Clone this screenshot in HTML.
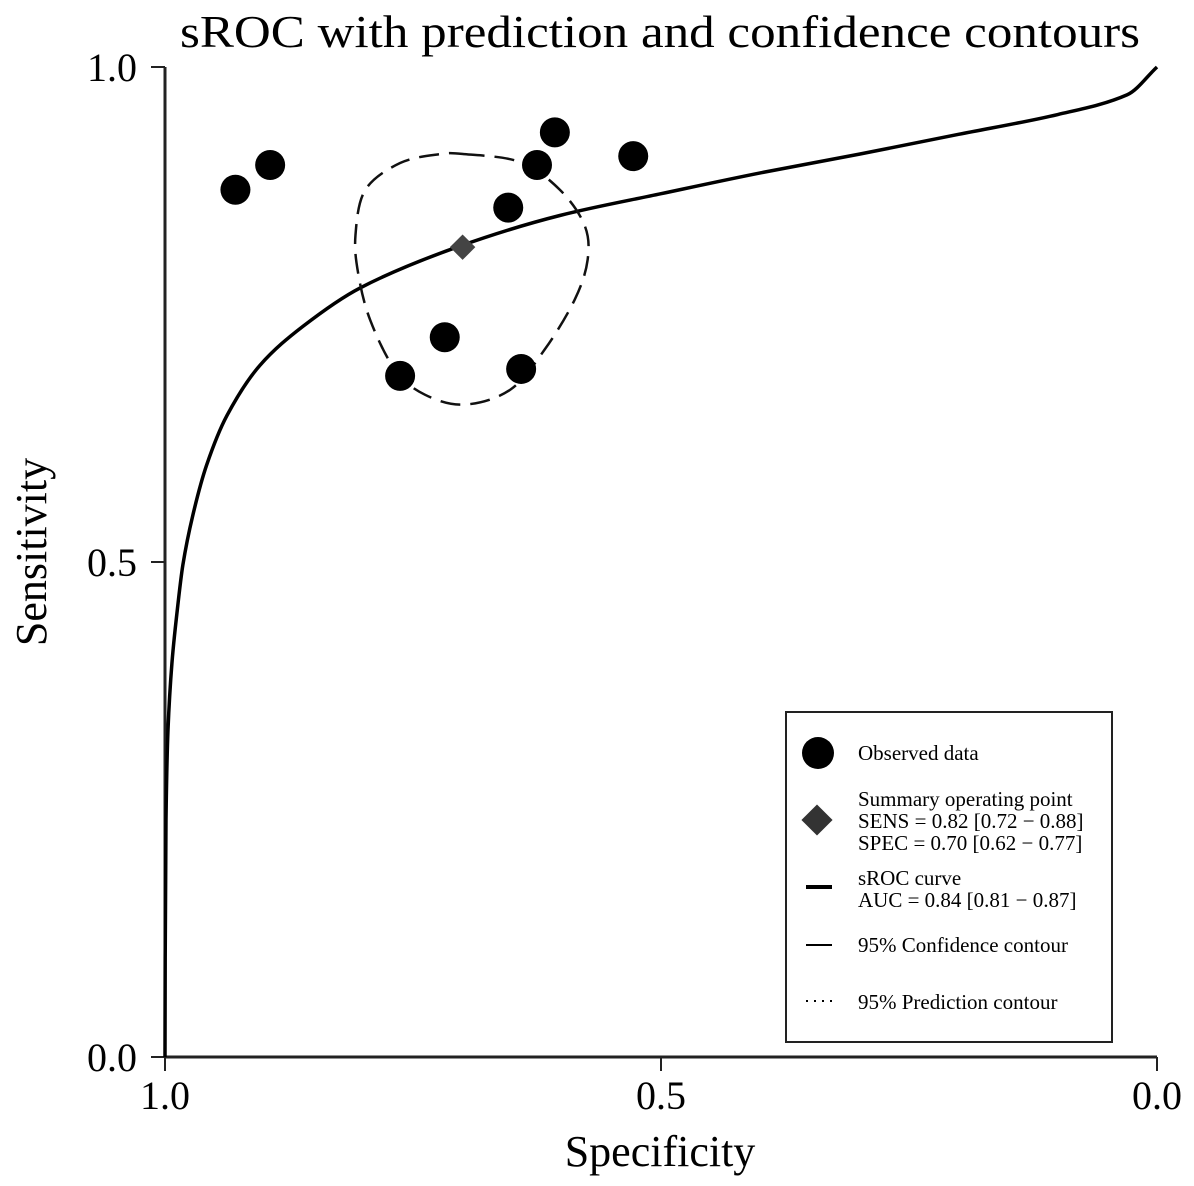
<!DOCTYPE html>
<html><head><meta charset="utf-8"><style>
body{margin:0;background:#fff;}
svg{display:block;font-family:"Liberation Serif",serif;}
</style></head><body>
<svg width="1194" height="1186" viewBox="0 0 1194 1186">
<text x="660" y="47" text-anchor="middle" font-size="46" textLength="960" lengthAdjust="spacingAndGlyphs">sROC with prediction and confidence contours</text>
<g id="axes"></g>
<g id="plot"></g>
<text x="660" y="1166" text-anchor="middle" font-size="44">Specificity</text>
<text transform="translate(46,552) rotate(-90)" text-anchor="middle" font-size="44">Sensitivity</text>
<g>
<rect x="786" y="712" width="326" height="330" fill="#fff" stroke="#222" stroke-width="2"/>
<g>
<circle cx="818" cy="753" r="16" fill="#000"/>
<text x="858" y="760" font-size="21">Observed data</text></g>
<g>
<rect x="806" y="809" width="22" height="22" fill="#333" transform="rotate(45 817 820)"/>
<text x="858" y="806" font-size="21">Summary operating point</text>
<text x="858" y="828" font-size="21">SENS = 0.82 [0.72 − 0.88]</text>
<text x="858" y="850" font-size="21">SPEC = 0.70 [0.62 − 0.77]</text></g>
<g>
<line x1="806" y1="887" x2="832" y2="887" stroke="#000" stroke-width="4"/>
<text x="858" y="885" font-size="21">sROC curve</text>
<text x="858" y="907" font-size="21">AUC = 0.84 [0.81 − 0.87]</text></g>
<g>
<line x1="806" y1="945" x2="832" y2="945" stroke="#000" stroke-width="2"/>
<text x="858" y="952" font-size="21">95% Confidence contour</text></g>
<g>
<line x1="806" y1="1001" x2="832" y2="1001" stroke="#000" stroke-width="2" stroke-dasharray="2,6"/>
<text x="858" y="1009" font-size="21">95% Prediction contour</text></g>
</g>
</svg>
<script>
const xTicks=[1.0,0.5,0.0];
const yTicks=[0.0,0.5,1.0];
const tickLabels=["1.0","0.5","0.0"];
const obsSpec=[0.929,0.894,0.763,0.718,0.654,0.641,0.625,0.607,0.528];
const obsSens=[0.876,0.901,0.688,0.727,0.858,0.695,0.901,0.934,0.910];
const sumSpec=0.70;
const sumSens=0.818;
const curveFpr=[0,0.0002,0.001,0.003,0.007,0.012,0.018,0.028,0.042,0.0625,0.096,0.139,0.197,0.297,0.398,0.5,0.6,0.7,0.8,0.9,0.97,1];
const curveSens=[0,0.1,0.24,0.33,0.398,0.448,0.497,0.547,0.598,0.648,0.699,0.738,0.777,0.819,0.850,0.872,0.893,0.912,0.932,0.952,0.972,1];
const confSpec=[0.698,0.642,0.602,0.577,0.574,0.587,0.617,0.652,0.698,0.738,0.768,0.793,0.805,0.808,0.798,0.763,0.723];
const confSens=[0.912,0.904,0.876,0.840,0.805,0.765,0.715,0.674,0.659,0.669,0.694,0.744,0.790,0.830,0.876,0.903,0.912];

const NS='http://www.w3.org/2000/svg';
const X0=165,X1=1157,Y0=1057,Y1=67;
const sx=s=>X0+(1-s)*(X1-X0);
const sy=v=>Y0-v*(Y0-Y1);
function mk(tag,attrs,parent){const e=document.createElementNS(NS,tag);for(const k in attrs)e.setAttribute(k,attrs[k]);parent.appendChild(e);return e;}
const axes=document.getElementById('axes'),plot=document.getElementById('plot');
let e=mk('line',{x1:X0,y1:Y0,x2:X1,y2:Y0,stroke:'#222','stroke-width':3},axes);


e=mk('line',{x1:X0,y1:Y0,x2:X0,y2:Y1,stroke:'#222','stroke-width':3},axes);


xTicks.forEach((t,i)=>{
  const x=sx(t);
  const l=mk('line',{x1:x,y1:Y0,x2:x,y2:Y0+14,stroke:'#222','stroke-width':2},axes);
  
  
  const tx=mk('text',{x:x,y:Y0+52,'text-anchor':'middle','font-size':40},axes);
  tx.textContent=tickLabels[i];
  
  
});
yTicks.forEach((t,i)=>{
  const y=sy(t);
  const l=mk('line',{x1:X0-14,y1:y,x2:X0,y2:y,stroke:'#222','stroke-width':2},axes);
  
  
  const tx=mk('text',{x:X0-28,y:y+14,'text-anchor':'end','font-size':40},axes);
  tx.textContent=tickLabels[2-i];
  
  
});
// sROC curve: monotone cubic in pixel space
const cp=curveFpr.map((f,i)=>[sx(1-f),sy(curveSens[i])]);
const m=cp.length;
const dl=[],sl=[];
for(let i=0;i<m-1;i++){dl.push((cp[i+1][1]-cp[i][1])/(cp[i+1][0]-cp[i][0]));}
for(let i=0;i<m;i++){
  if(i===0)sl.push(dl[0]);else if(i===m-1)sl.push(dl[m-2]);
  else{const a=dl[i-1],b=dl[i];sl.push(a*b<=0?0:2/(1/a+1/b));}
}
let d='M'+cp[0][0]+','+cp[0][1];
for(let i=0;i<m-1;i++){
  const h=(cp[i+1][0]-cp[i][0])/3;
  d+=` C${cp[i][0]+h},${cp[i][1]+sl[i]*h} ${cp[i+1][0]-h},${cp[i+1][1]-sl[i+1]*h} ${cp[i+1][0]},${cp[i+1][1]}`;
}
e=mk('path',{d:d,fill:'none',stroke:'#000','stroke-width':3.5},plot);


// confidence contour (closed smooth)
const kp=confSpec.map((s,i)=>[sx(s),sy(confSens[i])]);
const n=kp.length;
d='M'+kp[0][0]+','+kp[0][1];
for(let i=0;i<n;i++){
  const p0=kp[(i-1+n)%n],p1=kp[i],p2=kp[(i+1)%n],p3=kp[(i+2)%n];
  const c1=[p1[0]+(p2[0]-p0[0])/6,p1[1]+(p2[1]-p0[1])/6];
  const c2=[p2[0]-(p3[0]-p1[0])/6,p2[1]-(p3[1]-p1[1])/6];
  d+=` C${c1[0]},${c1[1]} ${c2[0]},${c2[1]} ${p2[0]},${p2[1]}`;
}
e=mk('path',{d:d+'Z',fill:'none',stroke:'#111','stroke-width':2.5,'stroke-dasharray':'20,10'},plot);


obsSpec.forEach((s,i)=>{
  const c=mk('circle',{cx:sx(s),cy:sy(obsSens[i]),r:15,fill:'#000'},plot);
  
  
});
const dx=sx(sumSpec),dy=sy(sumSens);
e=mk('rect',{x:dx-9,y:dy-9,width:18,height:18,fill:'#444',transform:`rotate(45 ${dx} ${dy})`},plot);


</script>
</body></html>
